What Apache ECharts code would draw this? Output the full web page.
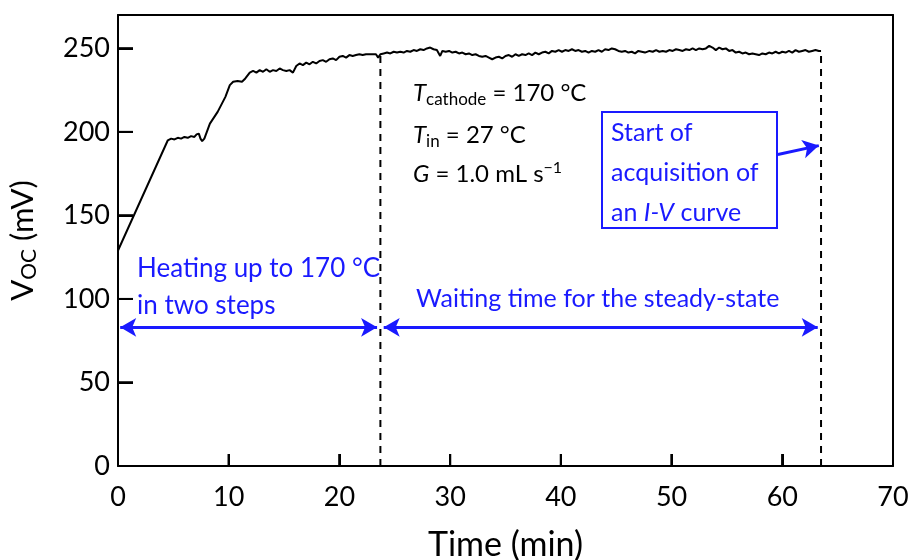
<!DOCTYPE html>
<html><head><meta charset="utf-8">
<script src="https://cdn.jsdelivr.net/npm/echarts@6/dist/echarts.min.js"></script>
<style>html,body{margin:0;padding:0;background:#fff}#c{width:912px;height:560px}</style>
</head><body><div id="c"></div>
<script>
var xTicks = [0,10,20,30,40,50,60,70];
var yTicks = [0,50,100,150,200,250];
var timeMin = [0,0,4.5,4.8,5.1,5.4,5.7,6.0,6.3,6.6,6.9,7.1,7.3,7.45,7.6,7.8,8.3,9.0,9.7,10.1,10.4,10.8,11.2,11.5,11.9,
12.2,12.5,12.8,13.1,13.4,13.7,14.0,14.3,14.6,14.9,15.2,15.5,15.8,16.1,16.4,16.7,17.0,17.3,17.6,17.9,18.2,18.5,18.8,19.1,19.4,19.7,20.0,20.3,20.6,20.9,21.2,21.5,21.8,22.1,22.4,22.7,23.0,23.3,23.5,23.7,
24.0,24.3,24.6,24.9,25.2,25.5,25.8,26.1,26.4,26.7,27.0,27.3,27.6,27.9,28.2,28.5,28.8,29.1,29.3,29.6,29.9,30.2,30.5,30.8,31.1,31.4,31.7,32.0,32.3,32.6,32.9,33.2,33.5,33.8,34.1,34.4,34.7,35.0,35.3,35.6,35.9,36.2,36.5,36.8,37.1,37.4,37.7,38.0,38.3,38.6,38.9,39.2,39.5,39.8,40.1,40.4,40.7,41.0,41.3,41.6,41.9,42.2,42.5,42.8,43.1,43.4,43.7,44.0,44.3,44.6,44.9,45.2,45.5,
45.8,46.1,46.4,46.7,47.0,47.3,47.6,48.0,48.3,48.6,48.9,49.2,49.5,49.8,50.1,50.4,50.7,51.0,51.3,51.6,51.9,52.2,52.5,52.8,53.1,53.4,53.7,54.0,54.3,54.6,54.9,55.2,55.5,55.8,56.1,56.4,56.7,57.0,57.3,57.6,57.9,58.2,58.5,58.8,59.1,59.4,59.7,60.0,60.3,60.6,60.9,61.2,61.5,61.8,62.1,62.4,62.7,63.0,63.3,63.5];
var vocMV = [0,129,195,196,195.5,196.5,196,197,196.5,197.5,197,198.5,199,196,194.5,196,205,212,221,228,230,230.5,230,232,235.5,
236.5,235.5,237,236,237.5,236,237,236.5,238,237,236.5,237,235.5,239.5,241,240,241.5,240.5,242,241,242.5,243,242,243.5,244,243,245,245.5,244.5,246,245.5,246,246.5,246,246.5,246.5,246.5,246.5,244.5,246.5,
247,247.5,247,248,247.5,248,247.5,248.5,248,249,248.5,249.5,249,250,250.5,249.5,249,245.5,248.5,248,248.5,247.5,248,247,247.5,246.5,247,246,246.5,245.5,245,245.5,244.5,243.5,244.5,245,244,245.5,246,245,246.5,245.5,246.5,246,247,246,247.5,246.5,247.5,248,247,248.5,248,249,248,249,248.5,249.5,248.5,249,248,248.5,247.5,248.5,248,249,248,249.5,249,250,249.5,248.5,248,
248.5,247.5,248,247,248.5,248,247.5,248.5,248,249,248,248.5,248,249,248.5,249.5,249,248.5,249.5,249,250,249,250,249.5,250,251.5,250.5,249,250.5,249.5,250,248.5,249,247.5,248,247,247.5,246.5,247,246.5,246,247,246.5,247.5,247,248,247,248,247.5,248.5,247.5,249,248,248.5,249,248,248.5,249,248.5,248.5];
var markerTimes = [23.7, 63.5];
var markerTop = [247, 248.5];
var arrowY = 83;
var heatArrow = [0.2, 23.4];
var waitArrow = [24.0, 63.2];
var pointerArrow = [[59.6, 186.5], [63.3, 191.8]];

var W = 912, H = 560;
var G = {left:118, right:19, top:15, bottom:94};
var X_MIN = 0, X_MAX = 70, Y_MIN = 0, Y_MAX = 270;
var xTickPx = 12, yTickPx = 15;
var yTickLenData = xTickPx * (Y_MAX - Y_MIN) / (H - G.top - G.bottom);
var xTickLenData = yTickPx * (X_MAX - X_MIN) / (W - G.left - G.right);

var series0 = timeMin.map(function(t,i){return [t, vocMV[i]];});
var chart = echarts.init(document.getElementById('c'));
var F = 'Lato, "Open Sans", sans-serif';
var blue = '#1a1aff';
var ms = [];
markerTimes.forEach(function(t,i){
  ms.push({type:'line', data:[[t,0],[t,markerTop[i]]], symbol:'none', silent:true,
    lineStyle:{color:'#000', width:2, type:[7,6]}, z:3});
});
// axis ticks as short segments on the axes' scales (same form as the dashed marker lines)
xTicks.forEach(function(v){
  ms.push({type:'line', data:[[v,Y_MIN],[v,Y_MIN + yTickLenData]], symbol:'none', silent:true,
    lineStyle:{color:'#000', width:2, type:'solid'}, z:3});
});
yTicks.forEach(function(v){
  ms.push({type:'line', data:[[X_MIN,v],[X_MIN + xTickLenData,v]], symbol:'none', silent:true,
    lineStyle:{color:'#000', width:2, type:'solid'}, z:3});
});
var frameAxisX = {type:'value', position:'top', min:X_MIN, max:X_MAX, interval:10, axisLine:{show:true, onZero:false, lineStyle:{color:'#000', width:2}},
  axisTick:{show:false}, axisLabel:{show:false}, splitLine:{show:false}};
var frameAxisY = {type:'value', position:'right', min:Y_MIN, max:Y_MAX, interval:50, axisLine:{show:true, onZero:false, lineStyle:{color:'#000', width:2}},
  axisTick:{show:false}, axisLabel:{show:false}, splitLine:{show:false}};
chart.setOption({
  animation:false,
  grid:{left:G.left, right:G.right, top:G.top, bottom:G.bottom, show:false, outerBoundsMode:'none', containLabel:false},
  xAxis:[{type:'value', position:'bottom', min:X_MIN, max:X_MAX, interval:10, name:'Time (min)', nameLocation:'middle', nameGap:62,
    nameTextStyle:{fontFamily:F, fontSize:34, color:'#000'},
    axisLine:{show:true, onZero:false, lineStyle:{color:'#000', width:2}}, splitLine:{show:false},
    axisTick:{show:true, inside:true, length:xTickPx, lineStyle:{color:'#000', width:2}},
    axisLabel:{show:true, fontFamily:F, fontSize:27, color:'#000', margin:18}}, frameAxisX],
  yAxis:[{type:'value', position:'left', min:Y_MIN, max:Y_MAX, interval:50, name:'{v|V}{s|OC}{v| (mV)}', nameLocation:'middle', nameGap:78,
    nameTextStyle:{rich:{v:{fontFamily:F, fontSize:31, color:'#000'}, s:{fontFamily:F, fontSize:21, color:'#000', padding:[14,0,0,0]}}},
    axisLine:{show:true, onZero:false, lineStyle:{color:'#000', width:2}}, splitLine:{show:false},
    axisTick:{show:true, inside:true, length:yTickPx, lineStyle:{color:'#000', width:2}},
    axisLabel:{show:true, fontFamily:F, fontSize:27, color:'#000', margin:8, formatter:function(v){return v>260?'':v;}}}, frameAxisY],
  series:[{type:'line', data:series0, symbol:'none', lineStyle:{color:'#000', width:2}, z:4,
    markLine:{silent:true, symbol:['arrow','arrow'], symbolSize:[14,16], label:{show:false},
      lineStyle:{color:blue, width:3, type:'solid'},
      data:[[{coord:[heatArrow[0],arrowY]},{coord:[heatArrow[1],arrowY]}],
            [{coord:[waitArrow[0],arrowY]},{coord:[waitArrow[1],arrowY]}],
            [{coord:pointerArrow[0], symbol:'none'},{coord:pointerArrow[1], symbol:'arrow'}]]}}].concat(ms),
  graphic:[
    {type:'text', left:137, top:250, style:{text:'Heating up to 170 °C\nin two steps', fill:blue, font:'26px '+F, lineHeight:37}},
    {type:'text', left:416, top:286, style:{text:'Waiting time for the steady-state', fill:blue, font:'25px '+F}},
    {type:'rect', shape:{x:602, y:112, width:175, height:116}, style:{fill:'none', stroke:blue, lineWidth:2}},
    {type:'text', left:611, top:113, style:{text:'Start of\nacquisition of\n{n|an }{i|I-V}{n| curve}', fill:blue, font:'25px '+F, lineHeight:40,
      rich:{n:{fill:blue, font:'25px '+F, lineHeight:40}, i:{fill:blue, font:'italic 25px '+F, lineHeight:40}}}},
    {type:'text', left:413, top:78, style:{text:'{t|T}{s|cathode}{n| = 170 °C}', rich:{
      t:{font:'italic 24px '+F, fill:'#000', lineHeight:30}, s:{font:'17px '+F, fill:'#000', padding:[13,0,0,0], lineHeight:30}, n:{font:'24px '+F, fill:'#000', lineHeight:30}}}},
    {type:'text', left:413, top:120, style:{text:'{t|T}{s|in}{n| = 27 °C}', rich:{
      t:{font:'italic 24px '+F, fill:'#000', lineHeight:30}, s:{font:'17px '+F, fill:'#000', padding:[13,0,0,0], lineHeight:30}, n:{font:'24px '+F, fill:'#000', lineHeight:30}}}},
    {type:'text', left:413, top:160, style:{text:'{t|G}{n| = 1.0 mL s}{p|\u22121}', rich:{
      t:{font:'italic 24px '+F, fill:'#000', lineHeight:30}, p:{font:'16px '+F, fill:'#000', padding:[0,0,13,0], lineHeight:30}, n:{font:'24px '+F, fill:'#000', lineHeight:30}}}}
  ]
});
// extra tick strokes placed through the grid's own pixel conversion (overlap the ones above if both draw)
try {
  var tickEls = [];
  xTicks.forEach(function(v, i){
    var p = chart.convertToPixel({xAxisIndex:0, yAxisIndex:0}, [v, Y_MIN]);
    if (p && isFinite(p[0])) tickEls.push({type:'line', id:'xt'+i, z:50, silent:true,
      shape:{x1:p[0], y1:p[1], x2:p[0], y2:p[1]-xTickPx}, style:{stroke:'#000', lineWidth:2}});
  });
  yTicks.forEach(function(v, i){
    var p = chart.convertToPixel({xAxisIndex:0, yAxisIndex:0}, [X_MIN, v]);
    if (p && isFinite(p[1])) tickEls.push({type:'line', id:'yt'+i, z:50, silent:true,
      shape:{x1:p[0], y1:p[1], x2:p[0]+yTickPx, y2:p[1]}, style:{stroke:'#000', lineWidth:2}});
  });
  if (tickEls.length) chart.setOption({graphic: tickEls});
} catch (e) {}
</script></body></html>
